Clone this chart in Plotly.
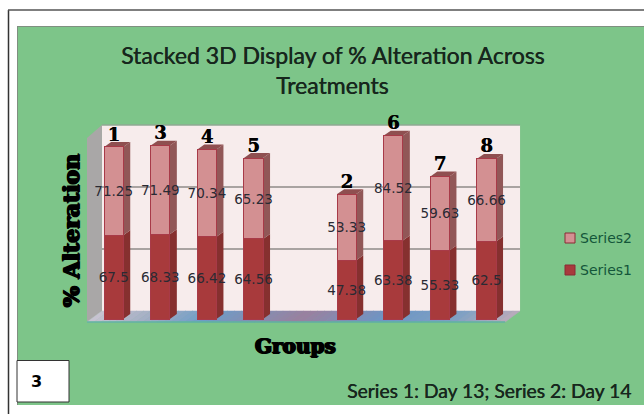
import plotly.graph_objects as go

# Group order along the axis; the blank entry leaves the gap between the two clusters
groups = ["1", "3", "4", "5", "", "2", "6", "7", "8"]
series1 = [67.5, 68.33, 66.42, 64.56, 47.38, 63.38, 55.33, 62.5]
series2 = [71.25, 71.49, 70.34, 65.23, 53.33, 84.52, 59.63, 66.66]
gridlines = [50, 100, 150]

W, H = 644, 414
# Axis window in pixels
PX_LEFT, PX_RIGHT = 67.1, 533.1
PX_TOP, PX_BOTTOM = 114.4, 337.6
X_RANGE = [-1, 9]
Y_RANGE = [-15, 165]

# Oblique projection offsets, in axis units
WALL_DX, WALL_DY = 0.32, 6.45
BAR_DX, BAR_DY = 0.15, 4.0
BAR_W = 0.41
FLOOR_L, FLOOR_R, FLOOR_Y = -0.573, 8.4, -2.4
WALL_TOP = 150 + WALL_DY

FRONT1, SIDE1, TOP1 = "#A83A3C", "#86302F", "#8E3A3A"
FRONT2, SIDE2, TOP2 = "#D39092", "#915757", "#8F4F50"
EDGE = "#A83A48"
GREEN = "#7DC589"
INK = "#17271D"
SANS = "Lato, Carlito, sans-serif"
SERIF = "'DejaVu Serif', serif"
HEAVY = "1px 0 0 black, -1px 0 0 black, 0 1px 0 black"
SEMI = "0.4px 0 0 #17271D"

present = [i for i, g in enumerate(groups) if g]
labels = [g for g in groups if g]
tops = [a + b for a, b in zip(series1, series2)]


def poly(pts, fill, line=None, width=0, layer="below"):
    path = "M" + " L".join(f"{x},{y}" for x, y in pts) + " Z"
    return dict(type="path", path=path, xref="x", yref="y", fillcolor=fill,
                line=dict(color=line or fill, width=width), layer=layer)


def mix(c1, c2, t):
    a = [int(c1[i:i + 2], 16) for i in (1, 3, 5)]
    b = [int(c2[i:i + 2], 16) for i in (1, 3, 5)]
    return "#" + "".join(f"{round(p + (q - p) * t):02x}" for p, q in zip(a, b))


shapes = []

# Page frame and green chart panel
shapes.append(dict(type="line", xref="paper", yref="paper", x0=8.5 / W, x1=8.5 / W,
                   y0=0, y1=1 - 10 / H, line=dict(color="#333333", width=1.5), layer="below"))
shapes.append(dict(type="line", xref="paper", yref="paper", x0=8 / W, x1=1,
                   y0=1 - 10 / H, y1=1 - 10 / H, line=dict(color="#555555", width=1.5), layer="below"))
shapes.append(dict(type="rect", xref="paper", yref="paper", x0=17 / W, x1=1,
                   y0=1 - 405 / H, y1=1 - 26 / H, fillcolor=GREEN,
                   line=dict(width=0), layer="below"))
shapes.append(dict(type="line", xref="paper", yref="paper", x0=17 / W, x1=1,
                   y0=1 - 26.5 / H, y1=1 - 26.5 / H, line=dict(color="#7F8F80", width=1), layer="below"))
shapes.append(dict(type="line", xref="paper", yref="paper", x0=17.5 / W, x1=17.5 / W,
                   y0=1 - 405 / H, y1=1 - 26 / H, line=dict(color="#7F8F80", width=1), layer="below"))

# Back wall, side wall and gridlines
back_l, back_r = FLOOR_L + WALL_DX, FLOOR_R + WALL_DX
shapes.append(poly([(back_l, WALL_DY), (back_r, WALL_DY), (back_r, WALL_TOP), (back_l, WALL_TOP)],
                   "#F7ECEC"))
shapes.append(poly([(FLOOR_L, FLOOR_Y), (back_l, WALL_DY), (back_l, WALL_TOP), (FLOOR_L, 146)],
                   "#A9A7A7"))
for g in gridlines:
    shapes.append(dict(type="line", xref="x", yref="y", x0=back_l, x1=back_r,
                       y0=g + WALL_DY, y1=g + WALL_DY,
                       line=dict(color="#8F8B88" if g < 150 else "#8FA893", width=1.5),
                       layer="below"))

# Floor, shaded in narrow strips from left to right
floor_stops = [(0.0, "#C9C4D2"), (0.13, "#A3AEC4"), (0.27, "#6E9CC8"), (0.5, "#9A809F"),
               (0.7, "#6E95C6"), (0.87, "#7FA0C4"), (1.0, "#BBABBB")]
STRIPS = 60
span = FLOOR_R - FLOOR_L
for k in range(STRIPS):
    t0, t1 = k / STRIPS, (k + 1) / STRIPS
    tm = (t0 + t1) / 2
    for (a, ca), (b, cb) in zip(floor_stops, floor_stops[1:]):
        if a <= tm <= b:
            col = mix(ca, cb, (tm - a) / (b - a))
            break
    x0, x1 = FLOOR_L + span * t0, FLOOR_L + span * t1
    shapes.append(poly([(x0, FLOOR_Y), (x1, FLOOR_Y), (x1 + WALL_DX, WALL_DY), (x0 + WALL_DX, WALL_DY)],
                       col, col, 0.5))
shapes.append(dict(type="line", xref="x", yref="y", x0=FLOOR_L, x1=FLOOR_R, y0=FLOOR_Y, y1=FLOOR_Y,
                   line=dict(color="#5FB3A0", width=1.5), layer="below"))

# Side and top faces of each stacked bar, derived from its values
for x, a, b in zip(present, series1, series2):
    r = x + BAR_W / 2
    l = x - BAR_W / 2
    shapes.append(poly([(r, 0), (r + BAR_DX, BAR_DY), (r + BAR_DX, a + BAR_DY), (r, a)], SIDE1))
    shapes.append(poly([(r, a), (r + BAR_DX, a + BAR_DY), (r + BAR_DX, a + b + BAR_DY), (r, a + b)], SIDE2))
    shapes.append(poly([(l, a + b), (r, a + b), (r + BAR_DX, a + b + BAR_DY), (l + BAR_DX, a + b + BAR_DY)], TOP2))

# Corner tag and hand-placed key
shapes.append(dict(type="rect", xref="paper", yref="paper", x0=17 / W, x1=69 / W,
                   y0=1 - 402 / H, y1=1 - 360.5 / H, fillcolor="white",
                   line=dict(color="#333333", width=1), layer="below"))
key = [("Series2", FRONT2, 238), ("Series1", FRONT1, 270)]
for _, col, py in key:
    shapes.append(dict(type="rect", xref="paper", yref="paper", x0=565 / W, x1=575 / W,
                       y0=1 - (py + 5) / H, y1=1 - (py - 5) / H, fillcolor=col,
                       line=dict(color="#8A2B35", width=1), layer="below"))

annotations = [
    dict(text="Stacked 3D Display of % Alteration Across", x=332.5 / W, y=1 - 55 / H,
         font=dict(family=SANS, size=23, color=INK, shadow=SEMI)),
    dict(text="Treatments", x=332 / W, y=1 - 85 / H,
         font=dict(family=SANS, size=23, color=INK, shadow=SEMI)),
    dict(text="% Alteration", x=71 / W, y=1 - 231 / H, textangle=-90,
         font=dict(family=SERIF, size=22, color="black", weight="bold", shadow=HEAVY)),
    dict(text="Groups", x=295.5 / W, y=1 - 346 / H,
         font=dict(family=SERIF, size=20, color="black", weight="bold", shadow=HEAVY)),
    dict(text="Series 1: Day 13; Series 2: Day 14", x=489.5 / W, y=1 - 390 / H,
         font=dict(family=SANS, size=19.3, color=INK, shadow=SEMI)),
    dict(text="3", x=36 / W, y=1 - 381 / H,
         font=dict(family="'DejaVu Sans', sans-serif", size=16, color="black", weight="bold")),
]
for name, _, py in key:
    annotations.append(dict(text=name, x=578 / W, y=1 - py / H, xanchor="left",
                            font=dict(family="'DejaVu Sans', sans-serif", size=14, color="#14563A")))
for a in annotations:
    a.update(xref="paper", yref="paper", showarrow=False)
    a.setdefault("xanchor", "center")
    a.setdefault("yanchor", "middle")

value_font = dict(family="'DejaVu Sans', sans-serif", size=13.5, color="#2A2A33")

fig = go.Figure()
fig.add_trace(go.Bar(x=present, y=series1, name="Series1", width=BAR_W,
                     marker=dict(color=FRONT1, line=dict(color=EDGE, width=1)),
                     text=[str(v) for v in series1], textposition="inside", textangle=0,
                     insidetextanchor="middle", constraintext="none", insidetextfont=value_font,
                     showlegend=False))
fig.add_trace(go.Bar(x=present, y=series2, name="Series2", width=BAR_W,
                     marker=dict(color=FRONT2, line=dict(color=EDGE, width=1)),
                     text=[str(v) for v in series2], textposition="inside", textangle=0,
                     insidetextanchor="middle", constraintext="none", insidetextfont=value_font,
                     showlegend=False))
# Group numbers sit just above each bar's top face
fig.add_trace(go.Scatter(x=present, y=[t + BAR_DY - 2.5 for t in tops], mode="text", text=labels,
                         textposition="top center", showlegend=False, cliponaxis=False,
                         textfont=dict(family=SERIF, size=18, color="black", weight="bold",
                                       shadow="0.5px 0 0 black")))

fig.update_layout(
    width=W, height=H, autosize=False, barmode="stack",
    margin=dict(l=0, r=0, t=0, b=0),
    paper_bgcolor="white", plot_bgcolor="rgba(0,0,0,0)",
    shapes=shapes, annotations=annotations, showlegend=False,
    xaxis=dict(domain=[PX_LEFT / W, PX_RIGHT / W], range=X_RANGE, visible=False),
    yaxis=dict(domain=[1 - PX_BOTTOM / H, 1 - PX_TOP / H], range=Y_RANGE, visible=False),
)
fig.write_html("out.html", config=dict(displayModeBar=False))
